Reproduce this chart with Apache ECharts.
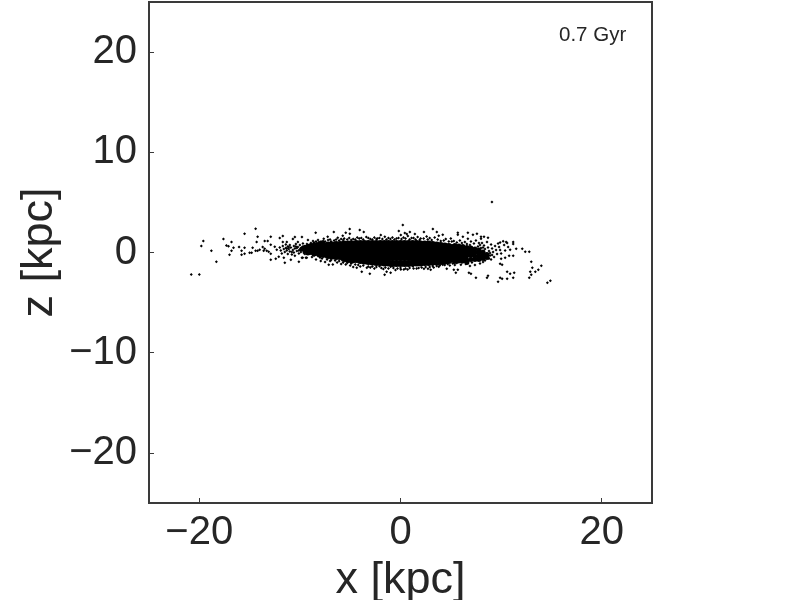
<!DOCTYPE html>
<html>
<head>
<meta charset="utf-8">
<title>0.7 Gyr</title>
<script src="https://cdn.jsdelivr.net/npm/echarts@6/dist/echarts.min.js"></script>
<style>
  html, body { margin: 0; padding: 0; background: #fff; }
  #main { width: 800px; height: 600px; }
</style>
</head>
<body>
<div id="main"></div>
<script>
// tick labels
const xTicks = [-20, 0, 20];
const zTicks = [-20, -10, 0, 10, 20];
const snapshotLabel = '0.7 Gyr';

// stars read one by one: left wing
const leftWing = [
  [-20.8,-2.2],[-20.0,-2.2],[-19.6,1.15],[-19.8,0.65],[-18.8,0.17],[-18.3,-0.93],[-17.6,1.35],[-17.3,0.7],
  [-17.1,0.63],[-16.8,1.06],[-16.6,0.47],[-16.8,0.17],[-17.0,-0.23],[-16.05,0.56],[-15.8,0.17],[-15.8,-0.23],
  [-15.5,0.47],[-15.5,-0.13],[-15.5,1.86],[-14.4,2.36],[-14.2,1.56],[-14.3,1.06],[-15.0,-0.03],[-14.8,-0.03],
  [-14.7,0.47],[-14.4,0.17],[-14.2,0.17],[-14.0,0.27],[-13.5,1.15],[-13.2,1.15],[-12.9,1.56],[-13.7,0.56],
  [-13.5,0.37],[-13.3,0.17],[-13.1,0.07],[-13.6,0.17],[-12.9,0.77],[-12.9,-0.13],[-12.9,-0.73],[-12.4,-0.63],
  [-12.1,-0.43],[-12.5,0.57],[-12.3,0.27],[-12.0,1.45],[-11.7,1.65],[-11.5,-1.03],[-11.6,-0.53],[-10.9,-0.73],
  [-10.1,-0.93],[-10.5,-0.33],[-9.8,-0.53],[-9.4,-0.53],[-10.7,1.35],[-10.5,1.55],[-9.8,1.55],[-11.3,1.05],
  [-11.7,1.05],[-10.2,1.05],[-12.0,0.5],[-11.9,0.2],[-11.8,-0.1],[-11.7,0.65],[-11.6,0.35],[-11.5,0.05],
  [-11.4,0.8],[-11.4,0.45],[-11.3,0.2],[-11.2,-0.15],[-11.2,0.6],[-11.1,0.35],[-11.0,0.75],[-11.0,0.1],
  [-10.9,0.5],[-10.8,-0.2],[-10.7,0.25],[-10.6,0.65],[-10.6,0.0],[-10.5,0.4],[-10.4,0.85],[-10.3,0.15],
  [-10.2,0.55],[-10.1,-0.1],[-10.0,0.75],[-10.0,0.3],[-9.9,0.05],[-9.8,0.5],[-9.7,0.9],[-9.6,0.2],
  [-9.5,0.65],[-9.5,-0.15],[-9.4,0.4],[-9.3,0.85],[-9.2,0.1],[-9.2,1.25],[-9.9,0.3],[-9.7,0.6],[-9.6,-0.05],
  [-9.4,0.15],[-9.3,0.55],[-9.1,0.75],[-9.1,-0.1],[-9.0,0.3],[-9.0,0.55],[-8.9,0.05],[-8.9,0.95],[-10.3,0.45],
  [-10.1,0.2],[-10.8,0.05],[-10.4,0.6],[-11.1,0.55],[-11.3,0.4]
];

// stars read one by one: right wing and the tail that bends downward
const rightWing = [
  [9.09,5.04],[3.22,2.35],[3.61,2.05],[5.7,1.96],[5.7,1.76],[6.7,1.96],[7.6,1.86],[7.2,1.76],[8.0,1.56],[8.3,1.56],
  [8.7,1.46],[8.0,1.36],[6.2,1.56],[6.7,1.36],[4.2,1.76],[3.8,1.66],[10.2,1.13],[10.5,1.06],[11.2,1.06],[11.2,0.86],
  [9.8,0.56],[10.7,0.56],[10.9,0.27],[11.5,0.37],[12.1,0.37],[12.4,0.07],[12.8,0.07],[10.8,-0.33],[11.2,-0.33],
  [10.4,-0.53],[10.0,-0.63],[10.1,-1.23],[9.9,-1.13],[13.0,-0.93],[14.0,-1.33],[13.1,-1.53],[13.7,-1.72],[13.4,-1.92],
  [12.9,-1.92],[13.0,-2.22],[12.8,-2.52],[11.3,-2.02],[10.9,-2.12],[10.6,-1.92],[11.2,-2.52],[10.6,-2.62],[10.1,-2.62],
  [9.9,-2.52],[9.7,-2.92],[8.7,-2.32],[8.6,-2.52],[7.5,-2.52],[7.0,-2.12],[6.8,-2.02],[14.9,-2.82],[14.6,-3.02],
  [5.7,-1.72],[5.5,-2.02],[5.3,-1.72],[4.6,-1.63],[6.0,-1.23],[3.8,-1.42],[3.0,-1.72],[4.2,-1.23],
  [8.1,0.95],[8.3,0.7],[8.4,0.35],[8.5,-0.1],[8.5,-0.55],[8.6,1.05],[8.7,0.5],[8.8,0.15],[8.9,-0.3],[9.0,-0.7],
  [9.0,0.8],[9.1,0.4],[9.2,0.05],[9.3,-0.45],[9.4,0.65],[9.5,0.25],[9.6,-0.15],[9.7,0.9],[9.9,1.0],[9.9,0.25],
  [10.0,-0.1],[10.3,0.75],[10.4,0.2],[10.6,0.95],[7.9,-1.1],[8.2,-0.95],[7.4,-1.25],[6.9,-1.35],
  [7.7,0.6],[7.9,0.75],[8.0,0.45],[8.2,0.5],[8.4,-0.8],[8.9,-0.05],[9.1,-0.25],[8.8,-0.6]
];

// stars read one by one: edges of the central band
const bandFringe = [
  [-8.43,1.96],[-6.63,2.05],[-5.05,2.35],[-4.05,2.25],[-3.65,2.05],[0.23,2.75],[-0.17,2.15],[0.43,1.95],[0.63,1.85],
  [0.93,2.05],[0.73,1.65],[1.43,1.85],[2.33,2.05],[0.03,1.75],[-1.96,1.75],[-1.56,1.56],[-5.74,1.66],[-5.44,1.96],
  [-5.04,1.86],[-6.24,1.46],[-7.24,1.56],[-7.63,1.36],[-3.05,-2.12],[-3.85,-1.92],[-1.58,-2.22],[-0.98,-2.02],
  [-1.38,-1.92],[-3.35,-1.53],[-4.35,-1.53],[-5.44,-1.2],[-6.73,-1.2],[-7.13,-1.23],[-7.93,-0.86],[-9.72,-0.53],
  [-9.32,-0.53],[0.03,-1.69],[0.33,-1.69],[2.33,-1.63],[2.73,-1.63],[1.23,-1.36],[-0.98,-1.42],[-2.09,-1.36],
  [-8.7,1.15],[-8.2,1.25],[-7.9,1.1],[-7.0,1.3],[-6.6,1.2],[-5.9,1.35],[-5.6,1.4],[-4.7,1.35],[-4.3,1.5],[-3.9,1.45],
  [-3.4,1.55],[-3.0,1.35],[-2.6,1.5],[-2.3,1.4],[-1.2,1.45],[-0.8,1.5],[-0.4,1.4],[0.3,1.5],[1.1,1.45],[1.7,1.55],
  [2.0,1.4],[2.6,1.6],[2.9,1.45],[3.4,1.5],[4.5,1.35],[5.0,1.4],[5.3,1.15],[5.9,1.2],[6.4,1.05],[7.0,1.1],[7.5,1.2],
  [7.8,0.95],[-8.8,-0.45],[-8.4,-0.7],[-8.0,-0.5],[-7.5,-0.95],[-7.0,-0.85],[-6.3,-1.0],[-5.9,-1.15],[-5.0,-1.3],
  [-4.7,-1.45],[-4.0,-1.4],[-3.0,-1.5],[-2.6,-1.6],[-1.7,-1.65],[-0.5,-1.75],[0.7,-1.7],[1.6,-1.6],[3.3,-1.5],[3.6,-1.35],
  [4.9,-1.3],[5.4,-1.25],[6.5,-1.15],[7.1,-1.0],
  [-8.6,1.0],[-8.4,1.1],[-8.1,1.05],[-7.7,1.15],[-7.5,1.1],[-7.2,1.25],[-6.9,1.1],[-6.4,1.3],[-6.1,1.2],[-5.7,1.25],
  [-5.3,1.3],[-5.1,1.45],[-4.9,1.25],[-4.5,1.3],[-4.1,1.4],[-3.7,1.3],[-3.2,1.45],[-2.8,1.3],[-2.4,1.35],[-2.1,1.45],
  [-1.8,1.35],[-1.4,1.3],[-1.0,1.35],[-0.6,1.3],[-0.2,1.45],[0.1,1.35],[0.5,1.4],[0.9,1.3],[1.3,1.45],[1.5,1.3],
  [1.9,1.25],[2.3,1.4],[2.7,1.3],[3.1,1.25],[3.7,1.3],[4.0,1.15],[4.3,1.2],[4.8,1.1],[5.1,1.1],[5.6,1.0],[6.1,0.95],
  [6.6,0.85],[6.9,0.75],[7.3,0.9],[-8.6,-0.3],[-8.2,-0.35],[-7.8,-0.6],[-7.3,-0.7],[-6.9,-0.75],[-6.5,-0.8],[-6.1,-0.85],
  [-5.7,-1.0],[-5.3,-1.05],[-4.9,-1.1],[-4.5,-1.2],[-4.2,-1.25],[-3.7,-1.3],[-3.2,-1.4],[-2.8,-1.4],[-2.4,-1.45],
  [-1.9,-1.55],[-1.5,-1.5],[-1.2,-1.6],[-0.7,-1.55],[-0.3,-1.6],[0.0,-1.55],[0.5,-1.6],[0.9,-1.55],[1.3,-1.6],[1.8,-1.55],
  [2.1,-1.5],[2.5,-1.45],[2.9,-1.45],[3.2,-1.35],[3.9,-1.3],[4.4,-1.25],[4.7,-1.15],[5.2,-1.1],[5.6,-1.05],[6.1,-1.0],
  [6.4,-0.9],[6.8,-0.8],[7.2,-0.75],[7.6,-0.7]
];

// thinner dark ends of the band on both sides, packed but narrower than the core
const discShoulders = [
  [-9.8,0.35],[-9.5,0.5],[-9.5,0.15],[-9.2,0.6],[-9.2,0.25],[-9.2,-0.05],[-8.9,0.7],[-8.9,0.35],[-8.9,0.0],
  [-8.6,0.75],[-8.6,0.4],[-8.6,0.05],[-8.6,-0.15],[-8.3,0.8],[-8.3,-0.1],[-8.0,0.85],[-8.0,-0.25],[-7.7,0.9],[-7.7,-0.3],
  [5.4,0.7],[5.8,0.65],[6.2,0.6],[6.6,0.5],[6.6,0.15],[6.6,-0.25],[6.6,-0.75],[7.0,0.45],[7.0,0.1],[7.0,-0.3],[7.0,-0.7],
  [7.4,0.35],[7.4,0.0],[7.4,-0.35],[7.4,-0.7],[7.8,0.25],[7.8,-0.05],[7.8,-0.4],[7.8,-0.7],[8.2,0.05],[8.2,-0.3],[8.2,-0.6],
  [8.6,-0.2],[8.6,-0.5],[5.8,-0.85],[6.2,-0.85],[6.6,-1.0],[5.4,-0.9]
];

// dense core of the disc, too packed to separate: drawn with wider marks
const discCore = [
  [-8.4,0.55],[-8.4,0.2],[-8.0,0.6],[-8.0,0.25],[-8.0,-0.05],
  [-7.6,0.65],[-7.6,0.3],[-7.6,-0.1],[-7.2,0.75],[-7.2,0.35],[-7.2,-0.05],[-7.2,-0.3],
  [-6.8,0.75],[-6.8,0.35],[-6.8,-0.05],[-6.8,-0.35],[-6.4,0.8],[-6.4,0.4],[-6.4,0.0],[-6.4,-0.4],
  [-6.0,0.8],[-6.0,0.4],[-6.0,0.0],[-6.0,-0.4],[-5.6,0.85],[-5.6,0.45],[-5.6,0.05],[-5.6,-0.35],[-5.6,-0.6],
  [-5.2,0.85],[-5.2,0.45],[-5.2,0.05],[-5.2,-0.35],[-5.2,-0.7],[-4.8,0.85],[-4.8,0.45],[-4.8,0.05],[-4.8,-0.35],[-4.8,-0.75],
  [-4.4,0.9],[-4.4,0.5],[-4.4,0.1],[-4.4,-0.3],[-4.4,-0.7],[-4.0,0.9],[-4.0,0.5],[-4.0,0.1],[-4.0,-0.3],[-4.0,-0.8],
  [-3.6,0.9],[-3.6,0.5],[-3.6,0.1],[-3.6,-0.35],[-3.6,-0.85],[-3.2,0.9],[-3.2,0.5],[-3.2,0.1],[-3.2,-0.4],[-3.2,-0.9],
  [-2.8,0.9],[-2.8,0.45],[-2.8,0.0],[-2.8,-0.45],[-2.8,-0.95],[-2.4,0.9],[-2.4,0.45],[-2.4,0.0],[-2.4,-0.45],[-2.4,-1.0],
  [-2.0,0.9],[-2.0,0.45],[-2.0,0.0],[-2.0,-0.5],[-2.0,-1.0],[-1.6,0.9],[-1.6,0.45],[-1.6,0.0],[-1.6,-0.5],[-1.6,-1.05],
  [-1.2,0.9],[-1.2,0.45],[-1.2,0.0],[-1.2,-0.5],[-1.2,-1.05],[-0.8,0.9],[-0.8,0.45],[-0.8,0.0],[-0.8,-0.5],[-0.8,-1.1],
  [-0.4,0.9],[-0.4,0.45],[-0.4,0.0],[-0.4,-0.5],[-0.4,-1.1],[0.0,0.9],[0.0,0.45],[0.0,0.0],[0.0,-0.5],[0.0,-1.1],
  [0.4,0.9],[0.4,0.45],[0.4,0.0],[0.4,-0.5],[0.4,-1.1],[0.8,0.9],[0.8,0.45],[0.8,0.0],[0.8,-0.5],[0.8,-1.1],
  [1.2,0.9],[1.2,0.45],[1.2,0.0],[1.2,-0.5],[1.2,-1.05],[1.6,0.9],[1.6,0.45],[1.6,0.0],[1.6,-0.5],[1.6,-1.05],
  [2.0,0.85],[2.0,0.45],[2.0,0.0],[2.0,-0.5],[2.0,-1.05],[2.4,0.85],[2.4,0.4],[2.4,0.0],[2.4,-0.5],[2.4,-1.0],
  [2.8,0.85],[2.8,0.4],[2.8,0.0],[2.8,-0.5],[2.8,-1.0],[3.2,0.8],[3.2,0.4],[3.2,0.0],[3.2,-0.5],[3.2,-0.95],
  [3.6,0.75],[3.6,0.4],[3.6,0.0],[3.6,-0.5],[3.6,-0.95],[4.0,0.7],[4.0,0.3],[4.0,-0.1],[4.0,-0.5],[4.0,-0.9],
  [4.4,0.65],[4.4,0.25],[4.4,-0.15],[4.4,-0.55],[4.4,-0.85],[4.8,0.6],[4.8,0.2],[4.8,-0.2],[4.8,-0.6],[4.8,-0.8],
  [5.2,0.5],[5.2,0.15],[5.2,-0.25],[5.2,-0.65],[5.6,0.4],[5.6,0.05],[5.6,-0.35],[5.6,-0.65],
  [6.0,0.35],[6.0,0.0],[6.0,-0.35],[6.0,-0.6],[6.4,0.25],[6.4,-0.1],[6.4,-0.45],[6.8,0.15],[6.8,-0.15],[7.2,0.05]
];

const inkColor = '#262626';
const frameColor = '#3a3a3a';

function tickText(v) {
  return String(v).replace('-', '\u2212');
}

function starSeries(points, size) {
  return {
    type: 'scatter',
    data: points,
    symbol: size > 4 ? 'circle' : 'diamond',
    symbolSize: size,
    itemStyle: { color: '#000', opacity: 1 },
    silent: true,
    animation: false
  };
}

function axisBase(name, ticks, nameGap, labelMargin) {
  return {
    type: 'value',
    min: -25,
    max: 25,
    name: name,
    nameLocation: 'middle',
    nameGap: nameGap,
    nameMoveOverlap: false,
    nameTextStyle: { color: inkColor, fontSize: 45, fontFamily: 'Liberation Sans' },
    axisLine: { show: true, onZero: false, lineStyle: { color: frameColor, width: 2 } },
    axisTick: { show: true, inside: true, length: 5, customValues: ticks, lineStyle: { color: frameColor, width: 1 } },
    axisLabel: {
      show: true,
      customValues: ticks,
      formatter: tickText,
      color: inkColor,
      fontSize: 40,
      fontFamily: 'Liberation Sans',
      margin: labelMargin
    },
    splitLine: { show: false }
  };
}

const chart = echarts.init(document.getElementById('main'), null, { renderer: 'canvas' });
chart.setOption({
  backgroundColor: '#fff',
  animation: false,
  grid: {
    left: 149, right: 148, top: 2, bottom: 97,
    outerBoundsMode: 'none',
    show: true, borderColor: frameColor, borderWidth: 2, backgroundColor: '#fff'
  },
  xAxis: axisBase('x [kpc]', xTicks, 55, 10),
  yAxis: axisBase('z [kpc]', zTicks, 87, 12),
  graphic: [{
    type: 'text',
    left: 559,
    top: 25,
    style: { text: snapshotLabel, fill: inkColor, font: '20.5px "Liberation Sans"' }
  }],
  series: [
    starSeries(discCore, 7),
    starSeries(discShoulders, 5),
    starSeries(bandFringe, 3),
    starSeries(leftWing, 3),
    starSeries(rightWing, 3)
  ]
});
</script>
</body>
</html>
